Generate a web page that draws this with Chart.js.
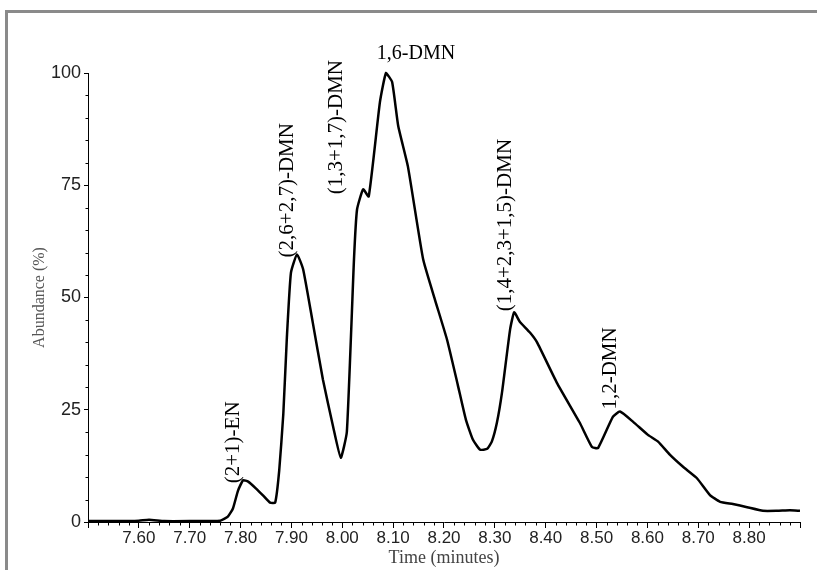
<!DOCTYPE html>
<html>
<head>
<meta charset="utf-8">
<script src="https://cdn.jsdelivr.net/npm/chart.js@4.4.1/dist/chart.umd.min.js"></script>
<style>
  html, body { margin: 0; padding: 0; background: #fff; }
  #wrap { position: relative; width: 817px; height: 570px; overflow: hidden; }
  #frame { position: absolute; left: 5px; top: 10px; width: 900px; height: 700px;
           border-left: 3px solid #8a8a8a; border-top: 3px solid #8a8a8a; }
  #chart { position: absolute; left: 0; top: 0; }
</style>
</head>
<body>
<div id="wrap">
  <div id="frame"></div>
  <canvas id="chart" width="817" height="570"></canvas>
</div>
<script>
const times = [
  7.50, 7.56, 7.60, 7.62, 7.65, 7.70, 7.76, 7.775, 7.785, 7.795,
  7.805, 7.815, 7.83, 7.845, 7.858, 7.868, 7.876, 7.884, 7.891, 7.899,
  7.911, 7.923, 7.942, 7.962, 7.982, 7.997, 8.009, 8.023, 8.029, 8.041,
  8.052, 8.074, 8.086, 8.098, 8.110, 8.129, 8.159, 8.182, 8.206, 8.227,
  8.243, 8.257, 8.271, 8.285, 8.294, 8.304, 8.314, 8.330, 8.338, 8.349,
  8.369, 8.383, 8.422, 8.467, 8.491, 8.503, 8.532, 8.546, 8.572, 8.601,
  8.621, 8.644, 8.670, 8.697, 8.723, 8.743, 8.768, 8.796, 8.827, 8.855,
  8.880, 8.90
];
const abundance = [
  0.2, 0.2, 0.3, 0.5, 0.2, 0.2, 0.3, 1.2, 3.0, 7.0,
  9.3, 9.0, 7.5, 5.8, 4.3, 4.3, 11.5, 24, 41, 55.5,
  59.6, 56.3, 44.4, 31.7, 21.2, 14.3, 20.1, 58.5, 69.6, 74.1,
  72.5, 93.5, 100, 98, 88.2, 79.2, 58.5, 49.6, 40.6, 30.6,
  22.8, 18.3, 16.1, 16.3, 17.9, 22.1, 28.8, 42.9, 46.7, 44.6,
  42.2, 40.0, 31.0, 22.1, 16.7, 16.5, 23.4, 24.6, 22.3, 19.4,
  17.9, 15.0, 12.3, 9.8, 6.0, 4.5, 4.0, 3.3, 2.5, 2.5,
  2.6, 2.5
];

// etichette dei picchi (tempo e altezza dell'apice)
const peakNames = ['(2+1)-EN', '(2,6+2,7)-DMN', '(1,3+1,7)-DMN', '1,6-DMN', '(1,4+2,3+1,5)-DMN', '1,2-DMN'];
const peakTimes = [7.805, 7.911, 8.041, 8.086, 8.338, 8.546];
const peakHeights = [9.3, 59.6, 74.1, 100, 46.7, 24.6];

const xTickValues = [7.60, 7.70, 7.80, 7.90, 8.00, 8.10, 8.20, 8.30, 8.40, 8.50, 8.60, 8.70, 8.80];
const yTickValues = [0, 25, 50, 75, 100];

const serif = '"Liberation Serif", "Times New Roman", serif';
const sans = '"Liberation Sans", Arial, sans-serif';

// --- PLUGIN: tacche minori ed etichette dei picchi ---
const extrasPlugin = {
  id: 'extras',
  afterDraw(chart) {
    const ctx = chart.ctx;
    const xs = chart.scales.x;
    const ys = chart.scales.y;
    ctx.save();
    ctx.strokeStyle = '#000';
    ctx.lineWidth = 1;
    ctx.beginPath();
    // tacche minori asse x ogni 0.02
    for (let i = 750; i <= 890; i += 2) {
      if (i % 10 === 0) continue;
      const px = Math.round(xs.getPixelForValue(i / 100)) + 0.5;
      ctx.moveTo(px, ys.bottom);
      ctx.lineTo(px, ys.bottom + 3.5);
    }
    // tacche minori asse y ogni 5
    for (let v = 5; v < 100; v += 5) {
      if (v % 25 === 0) continue;
      const py = Math.round(ys.getPixelForValue(v)) + 0.5;
      ctx.moveTo(xs.left, py);
      ctx.lineTo(xs.left - 2.5, py);
    }
    ctx.stroke();

    // etichette
    const offsets = [
      { dx: -10, dy: 3, rot: true },
      { dx: -10, dy: 3, rot: true },
      { dx: -27, dy: 5, rot: true },
      { dx: 30, dy: -14, rot: false },
      { dx: -9, dy: -1, rot: true },
      { dx: -9, dy: -2, rot: true }
    ];
    ctx.fillStyle = '#000';
    peakNames.forEach((name, i) => {
      const o = offsets[i];
      const px = xs.getPixelForValue(peakTimes[i]) + o.dx;
      const py = ys.getPixelForValue(peakHeights[i]) + o.dy;
      ctx.save();
      ctx.translate(px, py);
      if (o.rot) {
        ctx.font = '21px ' + serif;
        ctx.rotate(-Math.PI / 2);
        ctx.textAlign = 'left';
        ctx.textBaseline = 'middle';
      } else {
        ctx.font = '20px ' + serif;
        ctx.textAlign = 'center';
        ctx.textBaseline = 'alphabetic';
      }
      ctx.fillText(name, 0, 0);
      ctx.restore();
    });
    ctx.restore();
  }
};

// --- GRAFICO ---
const ctx = document.getElementById('chart').getContext('2d');
new Chart(ctx, {
  type: 'line',
  data: {
    datasets: [{
      data: times.map((t, i) => ({ x: t, y: abundance[i] })),
      borderColor: '#000',
      borderWidth: 2.5,
      pointRadius: 0,
      fill: false,
      tension: 0.15,
      clip: 4
    }]
  },
  options: {
    responsive: false,
    animation: false,
    devicePixelRatio: 1,
    layout: { padding: { top: 73, right: 17, left: 0, bottom: 0 } },
    plugins: {
      legend: { display: false },
      tooltip: { enabled: false }
    },
    scales: {
      x: {
        type: 'linear',
        min: 7.50,
        max: 8.90,
        afterBuildTicks: (scale) => {
          scale.ticks = [7.50, ...xTickValues, 8.90].map(v => ({ value: v }));
        },
        afterFit: (scale) => { scale.height = 48; },
        ticks: {
          autoSkip: false,
          maxRotation: 0,
          padding: 0,
          color: '#222',
          font: { family: sans, size: 17 },
          callback: (v) => xTickValues.some(t => Math.abs(t - v) < 1e-6) ? v.toFixed(2) : ''
        },
        grid: { display: true, drawOnChartArea: false, drawTicks: true, tickLength: 6, color: '#000' },
        border: { display: true, color: '#000', width: 1 },
        title: {
          display: true,
          text: 'Time (minutes)',
          color: '#444',
          font: { family: serif, size: 18 },
          padding: { top: 0, bottom: 1 }
        }
      },
      y: {
        min: 0,
        max: 100,
        afterBuildTicks: (scale) => {
          scale.ticks = yTickValues.map(v => ({ value: v }));
        },
        afterFit: (scale) => { scale.width = 88; },
        ticks: {
          padding: 3,
          color: '#222',
          font: { family: sans, size: 18 },
          callback: (v) => String(v)
        },
        grid: { display: true, drawOnChartArea: false, drawTicks: true, tickLength: 4, color: '#000' },
        border: { display: true, color: '#000', width: 1 },
        title: {
          display: true,
          text: 'Abundance (%)',
          color: '#555',
          font: { family: serif, size: 16 },
          padding: { top: 30, bottom: 0 }
        }
      }
    }
  },
  plugins: [extrasPlugin]
});
</script>
</body>
</html>
